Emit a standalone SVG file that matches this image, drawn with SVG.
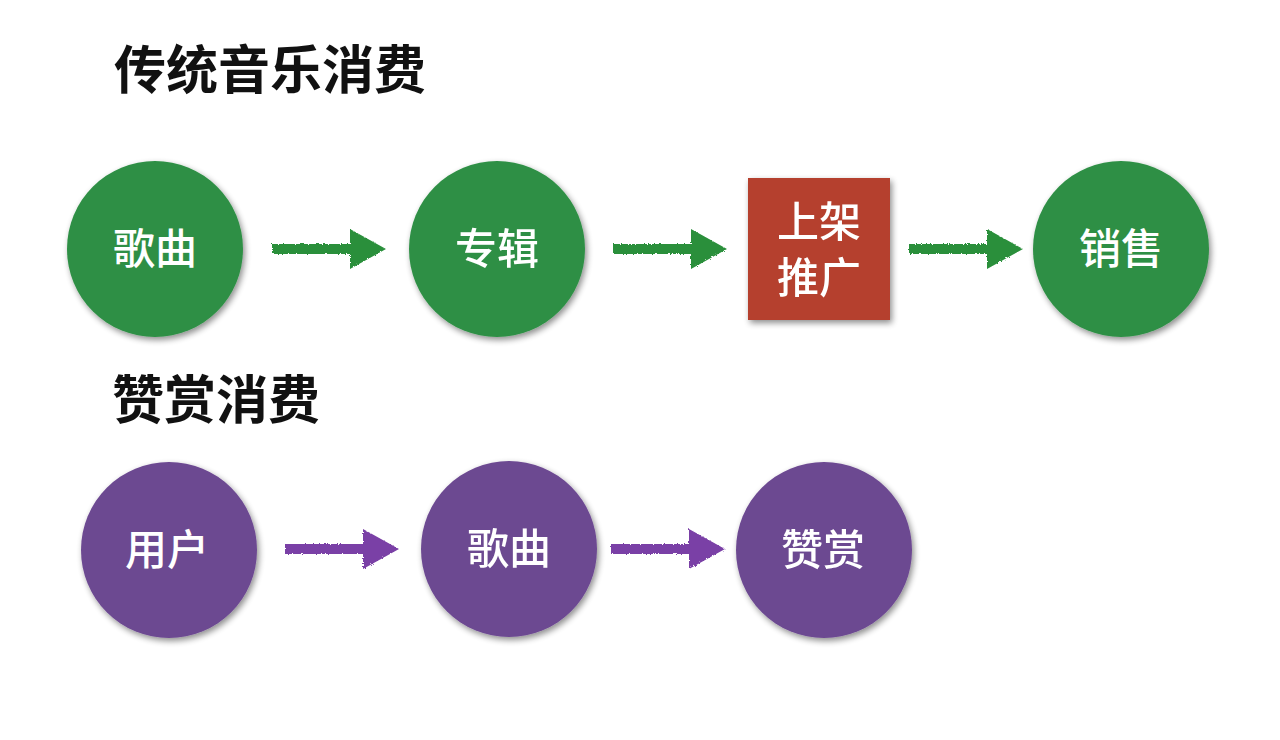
<svg xmlns="http://www.w3.org/2000/svg" width="1280" height="740" viewBox="0 0 1280 740">
<defs>
<filter id="sh" x="-20%" y="-20%" width="140%" height="140%">
<feGaussianBlur in="SourceAlpha" stdDeviation="3"/>
<feOffset dx="2" dy="3" result="b"/>
<feComponentTransfer><feFuncA type="linear" slope="0.45"/></feComponentTransfer>
<feMerge><feMergeNode/><feMergeNode in="SourceGraphic"/></feMerge>
</filter>
<filter id="rough" x="-10%" y="-30%" width="120%" height="160%">
<feTurbulence type="fractalNoise" baseFrequency="0.6" numOctaves="2" seed="3"/>
<feDisplacementMap in="SourceGraphic" scale="3"/>
</filter>
<g id="arrowG"><path d="M0,-5 L78,-5 L78,-20 L114,0 L78,20 L78,5 L0,5 Z"/></g>
</defs>
<style>
.title{font-family:"Noto Sans CJK SC","Noto Sans",sans-serif;font-weight:700;font-size:52px;fill:#111}
.lbl{font-family:"Noto Sans CJK SC","Noto Sans",sans-serif;font-weight:500;font-size:42px;fill:#fff;text-anchor:middle}
.green{fill:#2e8f45}
.red{fill:#b53f2e}
.purple{fill:#6c4891}
.ga{fill:#2a8f3a}
.pa{fill:#7a3fa6}
</style>
<rect width="1280" height="740" fill="#fff"/>
<text class="title" x="114" y="89">传统音乐消费</text>
<text class="title" x="112" y="419">赞赏消费</text>

<g id="connectors" filter="url(#rough)">
<use href="#arrowG" class="ga" x="272" y="249"/>
<use href="#arrowG" class="ga" x="613" y="249"/>
<use href="#arrowG" class="ga" x="909" y="249"/>
<use href="#arrowG" class="pa" x="285" y="549"/>
<use href="#arrowG" class="pa" x="611" y="549"/>
</g>

<g id="n-gequ1"><circle class="green" cx="155" cy="249" r="88" filter="url(#sh)"/><text class="lbl" x="155" y="264">歌曲</text></g>
<g id="n-zhuanji"><circle class="green" cx="497" cy="249" r="88" filter="url(#sh)"/><text class="lbl" x="497" y="264">专辑</text></g>
<g id="n-shangjia"><rect class="red" x="748" y="178" width="142" height="142" filter="url(#sh)"/><text class="lbl" x="819" y="237">上架</text><text class="lbl" x="819" y="293">推广</text></g>
<g id="n-xiaoshou"><circle class="green" cx="1121" cy="249" r="88" filter="url(#sh)"/><text class="lbl" x="1121" y="264">销售</text></g>

<g id="n-yonghu"><circle class="purple" cx="169" cy="550" r="88" filter="url(#sh)"/><text class="lbl" x="167" y="565">用户</text></g>
<g id="n-gequ2"><circle class="purple" cx="509" cy="549" r="88" filter="url(#sh)"/><text class="lbl" x="509" y="564">歌曲</text></g>
<g id="n-zanshang"><circle class="purple" cx="824" cy="550" r="88" filter="url(#sh)"/><text class="lbl" x="823" y="565">赞赏</text></g>
</svg>
